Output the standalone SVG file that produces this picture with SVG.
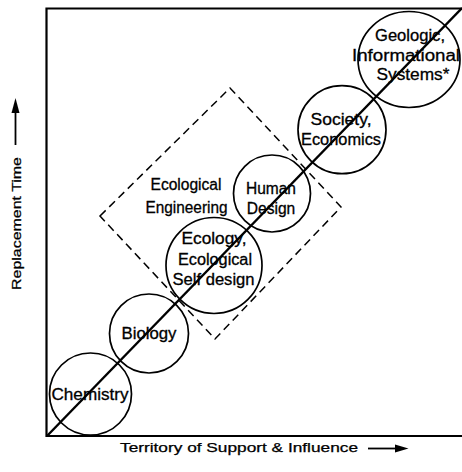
<svg xmlns="http://www.w3.org/2000/svg" width="462" height="472" viewBox="0 0 462 472">
<style>
  .frame{fill:none;stroke:#000;stroke-width:2.2}
  .node{fill:none;stroke:#000;stroke-width:1.7}
  .diag{fill:none;stroke:#000;stroke-width:2.4}
  .dash{fill:none;stroke:#000;stroke-width:1.5;stroke-dasharray:8 5}
  .lbl{font-family:"Liberation Sans",Arial,sans-serif;font-size:16px;fill:#000;stroke:#000;stroke-width:0.3;text-anchor:middle}
  .ax{font-family:"Liberation Sans",Arial,sans-serif;font-size:12.5px;fill:#000;stroke:#000;stroke-width:0.25}
</style>
<rect width="462" height="472" fill="#fff"/>
<g id="frame">
  <path class="frame" d="M462,8.5 H46.5 V436 H462"/>
</g>
<g id="ecological-engineering-region">
  <polygon class="dash" points="100,216 230,88 341,207 215,339"/>
  <text class="lbl" x="186" y="190" textLength="71" lengthAdjust="spacingAndGlyphs">Ecological</text>
  <text class="lbl" x="186.5" y="213" textLength="82" lengthAdjust="spacingAndGlyphs">Engineering</text>
</g>
<g id="connectors">
  <line class="diag" x1="47" y1="436" x2="462" y2="8"/>
</g>
<g id="chemistry">
  <circle class="node" cx="90.5" cy="394" r="41"/>
  <text class="lbl" x="90" y="399.5" textLength="77" lengthAdjust="spacingAndGlyphs">Chemistry</text>
</g>
<g id="biology">
  <circle class="node" cx="149" cy="333.5" r="39.5"/>
  <text class="lbl" x="149" y="338.5" textLength="55" lengthAdjust="spacingAndGlyphs">Biology</text>
</g>
<g id="ecology">
  <circle class="node" cx="214" cy="265.5" r="48"/>
  <text class="lbl" x="214" y="243.5" textLength="65" lengthAdjust="spacingAndGlyphs">Ecology,</text>
  <text class="lbl" x="215" y="264.5" textLength="74" lengthAdjust="spacingAndGlyphs">Ecological</text>
  <text class="lbl" x="213.5" y="285" textLength="82" lengthAdjust="spacingAndGlyphs">Self design</text>
</g>
<g id="human-design">
  <circle class="node" cx="272" cy="193.5" r="38.5"/>
  <text class="lbl" x="271" y="193.5" textLength="50" lengthAdjust="spacingAndGlyphs">Human</text>
  <text class="lbl" x="271" y="214" textLength="48.5" lengthAdjust="spacingAndGlyphs">Design</text>
</g>
<g id="society-economics">
  <circle class="node" cx="342" cy="129.7" r="44"/>
  <text class="lbl" x="341" y="125" textLength="61" lengthAdjust="spacingAndGlyphs">Society,</text>
  <text class="lbl" x="341" y="145" textLength="80" lengthAdjust="spacingAndGlyphs">Economics</text>
</g>
<g id="geologic-informational">
  <ellipse class="node" cx="409" cy="59.5" rx="51" ry="48"/>
  <text class="lbl" x="410" y="41" textLength="70" lengthAdjust="spacingAndGlyphs">Geologic,</text>
  <text class="lbl" x="406" y="61" textLength="108" lengthAdjust="spacingAndGlyphs">Informational</text>
  <text class="lbl" x="413" y="80" textLength="73" lengthAdjust="spacingAndGlyphs">Systems*</text>
</g>
<g id="y-axis-label">
  <line x1="15.5" y1="110" x2="15.5" y2="145" stroke="#000" stroke-width="1.8"/>
  <polygon points="15.5,98 11.5,113 19.5,113" fill="#000"/>
  <text class="ax" transform="translate(21,290) rotate(-90)" x="0" y="0" textLength="133" lengthAdjust="spacingAndGlyphs">Replacement Time</text>
</g>
<g id="x-axis-label">
  <text class="ax" x="120" y="452" textLength="238" lengthAdjust="spacingAndGlyphs">Territory of Support &amp; Influence</text>
  <line x1="368" y1="448.5" x2="398" y2="448.5" stroke="#000" stroke-width="1.8"/>
  <polygon points="408.5,448.5 395,444.5 395,452.5" fill="#000"/>
</g>
</svg>
